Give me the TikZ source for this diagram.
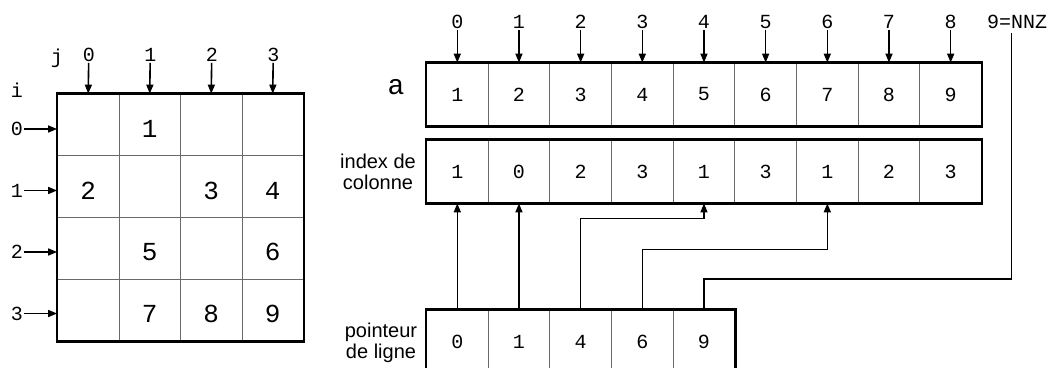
\documentclass[tikz,border=0pt]{standalone}
\usepackage{fontspec}
\setmainfont{Liberation Sans}
\setsansfont{Liberation Sans}
\setmonofont{Liberation Mono}
\usetikzlibrary{arrows.meta, calc, positioning}
\definecolor{CellGrid}{RGB}{105, 105, 105}

\tikzset{
    cellbox/.style={draw=CellGrid, line width=0.8pt, minimum width=61.67pt, minimum height=63pt,
        inner sep=0pt, font=\fontsize{20}{24}\selectfont\ttfamily},
    bigcell/.style={cellbox, minimum width=61.5pt, minimum height=61.75pt},
    bigval/.style={inner sep=0pt, yshift=-4pt, font=\fontsize{26}{30}\selectfont\ttfamily},
    idxlabel/.style={inner sep=1pt, font=\fontsize{20}{24}\selectfont\ttfamily},
    sidelabel/.style={align=center, inner sep=0pt, font=\fontsize{20}{21}\selectfont\sffamily},
    ptrarrow/.style={line width=1.6pt, -{Triangle[length=9pt, width=7pt]}},
    ptrline/.style={line width=1.6pt},
    frame/.style={line width=2.6pt, line join=miter},
}

\begin{document}
\begin{tikzpicture}[x=1pt, y=-1pt]

    \useasboundingbox (0, 0) rectangle (1055, 367);

    % --- Dense matrix ---
    \foreach \r in {0,...,3} {
        \foreach \c in {0,...,3} {
            \node[bigcell] (m\r\c) at ({88.25+61.5*\c}, {124.9+61.75*\r}) {};
        }
    }
    \foreach \r/\c/\v in {0/1/1, 1/0/2, 1/2/3, 1/3/4, 2/1/5, 2/3/6, 3/1/7, 3/2/8, 3/3/9} {
        \node[bigval] (v\r\c) at (m\r\c) {\v};
    }
    \draw[frame] (m00.north west) rectangle (m33.south east);

    % Column index j
    \node[idxlabel] (j) at (57, 58) {j};
    \foreach \c in {0,...,3} {
        \node[idxlabel] (jc\c) at ({88.75+61.5*\c}, 55) {\c};
        \draw[ptrarrow] (jc\c) -- (m0\c.north);
    }

    % Row index i
    \node[idxlabel] (i) at (17, 90) {i};
    \foreach \r in {0,...,3} {
        \node[idxlabel] (ir\r) at (17, {129+61.5*\r}) {\r};
        \draw[ptrarrow] (ir\r.east) -- (m\r0.west |- ir\r.east);
    }

    % --- Array a ---
    \foreach \v [count=\k from 0] in {1,...,9} {
        \node[cellbox] (a\k) at ({457.3+61.67*\k}, 94.5) {\v};
        \node[idxlabel] (ai\k) at ({457.3+61.67*\k}, 22) {\k};
        \draw[ptrarrow] (ai\k) -- (a\k.north);
    }
    \draw[frame] (a0.north west) rectangle (a8.south east);
    \node[idxlabel, font=\fontsize{28}{30}\selectfont\ttfamily] (alabel) at (396, 87) {a};

    % NNZ marker
    \node[idxlabel, anchor=west] (nnz) at (986, 22) {9=NNZ};
    \coordinate (nnzfoot) at (1011.3, 33);

    % --- Column index array ---
    \foreach \v [count=\k from 0] in {1,0,2,3,1,3,1,2,3} {
        \node[cellbox] (col\k) at ({457.3+61.67*\k}, 171.5) {\v};
    }
    \draw[frame] (col0.north west) rectangle (col8.south east);
    \node[sidelabel] (collabel) at (378, 172) {index de\\colonne};

    % --- Row pointer array ---
    \foreach \v [count=\k from 0] in {0,1,4,6,9} {
        \node[cellbox] (ptr\k) at ({457.3+61.67*\k}, 341.5) {\v};
    }
    \draw[frame] (ptr0.north west) rectangle (ptr4.south east);
    \node[sidelabel] (ptrlabel) at (381, 343) {pointeur\\de ligne};

    % --- Row pointers ---
    \draw[ptrarrow] (ptr0.north) -- (col0.south);
    \draw[ptrarrow] (ptr1.north) -- (col1.south);
    \draw[ptrarrow] (ptr2.north) |- ($(col4.south)+(0, 15)$) -- (col4.south);
    \draw[ptrarrow] (ptr3.north) |- ($(col6.south)+(0, 46)$) -- (col6.south);
    \draw[ptrline] (ptr4.north) |- ($(nnzfoot)+(0, 246)$) -- (nnzfoot);

\end{tikzpicture}
\end{document}
